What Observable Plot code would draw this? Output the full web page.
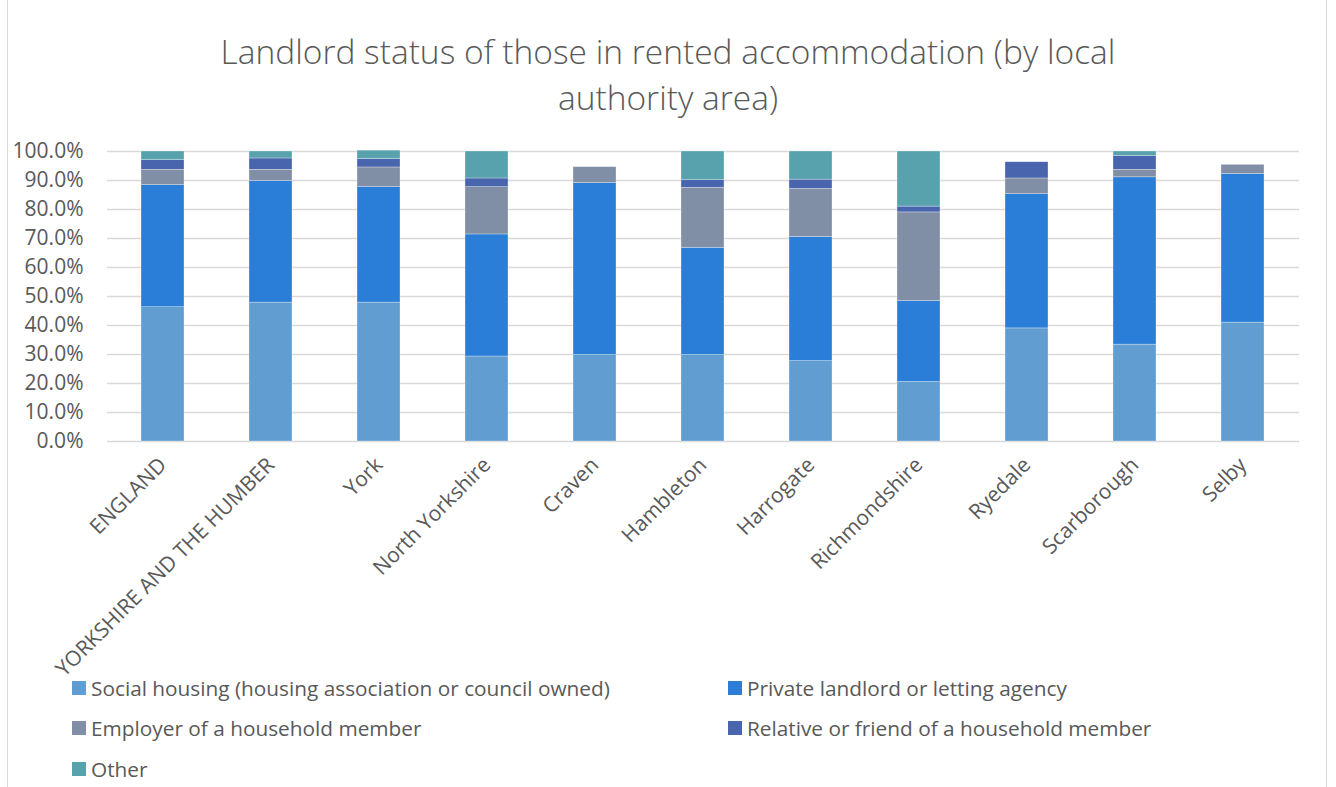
<!DOCTYPE html>
<html>
<head>
<meta charset="utf-8">
<script src="https://cdn.jsdelivr.net/npm/d3@7"></script>
<script src="https://cdn.jsdelivr.net/npm/@observablehq/plot@0.6"></script>
<style>
  html, body { margin: 0; padding: 0; background: #fff; }
  #wrap { position: relative; width: 1336px; height: 787px; overflow: hidden; font-family: "Open Sans", sans-serif; color: #595959; }
  #frame { position: absolute; left: 7px; top: 0; width: 1320px; height: 787px; border-left: 1.5px solid #d9d9d9; border-right: 1.5px solid #d9d9d9; box-sizing: border-box; }
  #title { position: absolute; left: 0; top: 28px; width: 1336px; text-align: center; font-size: 33.5px; font-weight: 300; line-height: 46px; color: #595959; }
  #chart { position: absolute; left: 0; top: 0; }
  .leg { position: absolute; display: flex; align-items: center; font-size: 20.8px; color: #595959; white-space: nowrap; }
  .sw { width: 14px; height: 14px; margin-right: 5px; }
</style>
</head>
<body>
<div id="wrap">
  <div id="frame"></div>
  <div id="title">Landlord status of those in rented accommodation (by local<br>authority area)</div>
  <div id="chart"></div>
  <div id="legend"></div>
</div>
<script>
const categories = ["ENGLAND", "YORKSHIRE AND THE HUMBER", "York", "North Yorkshire", "Craven", "Hambleton", "Harrogate", "Richmondshire", "Ryedale", "Scarborough", "Selby"];
const seriesNames = [
  "Social housing (housing association or council owned)",
  "Private landlord or letting agency",
  "Employer of a household member",
  "Relative or friend of a household member",
  "Other"
];
const seriesColors = ["#619dd0", "#2a7ed8", "#808ea6", "#4865ad", "#58a2ae"];
// values in percent
const social   = [46.3, 47.9, 47.9, 29.3, 29.8, 29.8, 27.7, 20.5, 39.0, 33.4, 41.0];
const privateL = [42.1, 41.9, 39.8, 42.1, 59.3, 37.0, 42.8, 27.9, 46.3, 57.7, 51.3];
const employer = [5.3, 3.9, 6.8, 16.3, 5.5, 20.7, 16.6, 30.6, 5.4, 2.6, 3.1];
const relative = [3.3, 3.9, 2.9, 3.0, 0, 2.6, 3.2, 2.0, 5.6, 4.7, 0];
const other    = [3.0, 2.4, 2.9, 9.3, 0, 9.9, 9.7, 19.0, 0, 1.6, 0];
const yTicks = [0, 10, 20, 30, 40, 50, 60, 70, 80, 90, 100];

const seriesValues = [social, privateL, employer, relative, other];
const rows = [];
seriesNames.forEach((s, si) => {
  categories.forEach((c, ci) => {
    rows.push({category: c, series: s, value: seriesValues[si][ci] / 100});
  });
});

const chart = Plot.plot({
  width: 1336,
  height: 660,
  marginTop: 151,
  marginBottom: 219,
  marginLeft: 107,
  marginRight: 37,
  style: {fontFamily: "'Open Sans', sans-serif", color: "#595959", background: "transparent", overflow: "visible"},
  x: {domain: categories, paddingInner: 0.6, paddingOuter: 0.3, label: null},
  y: {domain: [0, 1], label: null},
  color: {domain: seriesNames, range: seriesColors},
  marks: [
    Plot.ruleY(yTicks.map(d => d / 100), {stroke: "#d9d9d9", strokeWidth: 1.4}),
    Plot.barY(rows, Plot.stackY({x: "category", y: "value", fill: "series", order: seriesNames, stroke: "#ffffff", strokeWidth: 0.6, strokeOpacity: 0.5})),
    Plot.axisY(yTicks.map(d => d / 100), {tickFormat: d3.format(".1%"), tickSize: 0, tickPadding: 24, fontSize: 21, fill: "#595959"}),
    Plot.axisX({tickRotate: -45, tickSize: 0, tickPadding: 20, fontSize: 21, fill: "#595959"})
  ]
});
document.getElementById("chart").appendChild(chart);

const legendPos = [[72, 688], [728, 688], [72, 728], [728, 728], [72, 769]];
const legend = document.getElementById("legend");
seriesNames.forEach((s, i) => {
  const item = document.createElement("div");
  item.className = "leg";
  item.style.left = legendPos[i][0] + "px";
  item.style.top = (legendPos[i][1] - 13) + "px";
  item.style.height = "26px";
  const sw = document.createElement("span");
  sw.className = "sw";
  sw.style.background = seriesColors[i];
  const tx = document.createElement("span");
  tx.textContent = s;
  item.appendChild(sw);
  item.appendChild(tx);
  legend.appendChild(item);
});
</script>
</body>
</html>
